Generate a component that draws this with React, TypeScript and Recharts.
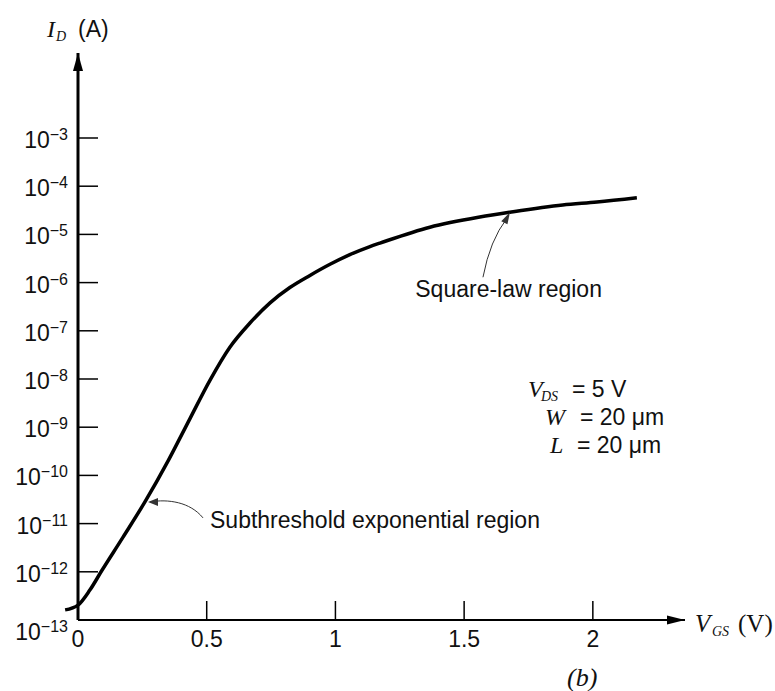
import React from 'react';
import { LineChart, Line, XAxis, YAxis, ReferenceDot } from 'recharts';

// ---- data (V_GS in volts, I_D in amperes) ----
const vgs = [-0.05, 0, 0.046, 0.092, 0.175, 0.26, 0.35, 0.435, 0.513, 0.59, 0.668, 0.746, 0.823, 0.901, 0.979, 1.056, 1.134, 1.173, 1.367, 1.561, 1.678, 1.883, 2.016, 2.171];
const idAmps = [1.62e-13, 2.04e-13, 4.17e-13, 1.05e-12, 5.25e-12, 2.82e-11, 2.0e-10, 1.51e-9, 9.5e-9, 4.57e-8, 1.45e-7, 3.8e-7, 7.9e-7, 1.41e-6, 2.4e-6, 3.8e-6, 5.6e-6, 6.6e-6, 1.41e-5, 2.29e-5, 2.88e-5, 4.07e-5, 4.68e-5, 5.75e-5];

const xTicks = [0, 0.5, 1, 1.5, 2];
const xTickLabels = ['0', '0.5', '1', '1.5', '2'];
const yExponents = [-3, -4, -5, -6, -7, -8, -9, -10, -11, -12, -13];
const yTicks = yExponents.map((e) => Math.pow(10, e));
const xDomain = [0, 2.358];
const yDomain = [1e-13, 0.058];

const annotations = [
  { key: 'sub', label: 'Subthreshold exponential region', v: 0.272, i: 2.82e-11 },
  { key: 'sq', label: 'Square-law region', v: 1.678, i: 2.88e-5 },
];

const params = [
  { sym: 'V', sub: 'DS', rest: '= 5 V' },
  { sym: 'W', sub: '', rest: '= 20 \u03bcm' },
  { sym: 'L', sub: '', rest: '= 20 \u03bcm' },
];

const data = vgs.map((v, k) => ({ vgs: v, id: idAmps[k] }));

const SANS = '"Liberation Sans", Arial, Helvetica, sans-serif';
const SERIF = '"Liberation Serif", "Times New Roman", serif';
const FS = 23;
const INK = '#111';

const Y_GAP = 10;
const X_GAP = 27;

const YTick = (props: any) => {
  const { x, y, payload } = props;
  const exp = Math.round(Math.log10(payload.value));
  const bottom = exp === -13;
  const ax = x + Y_GAP;
  return (
    <g>
      {!bottom && <line x1={ax} y1={y} x2={ax + 20} y2={y} stroke="#000" strokeWidth={1.5} />}
      <text x={x} y={y + (bottom ? 20 : 10)} textAnchor="end" fontFamily={SANS} fontSize={FS} fill={INK}>
        <tspan>10</tspan>
        <tspan dy={-8} fontSize={16}>{'\u2212' + String(-exp)}</tspan>
      </text>
    </g>
  );
};

const XTick = (props: any) => {
  const { x, y, payload } = props;
  const ay = y - X_GAP;
  return (
    <g>
      {payload.value !== 0 && <line x1={x} y1={ay} x2={x} y2={ay - 19} stroke="#000" strokeWidth={1.5} />}
      <text x={x} y={y} textAnchor="middle" fontFamily={SANS} fontSize={FS} fill={INK}>
        {xTickLabels[xTicks.indexOf(payload.value)] ?? String(payload.value)}
      </text>
    </g>
  );
};

const ArrowUp = (p: any) => (
  <path d={`M${p.cx},${p.cy} L${p.cx + 5},${p.cy + 18} L${p.cx - 5},${p.cy + 18} Z`} fill="#000" />
);
const ArrowRight = (p: any) => (
  <path d={`M${p.cx},${p.cy} L${p.cx - 18},${p.cy - 4.5} L${p.cx - 18},${p.cy + 4.5} Z`} fill="#000" />
);

const SubAnno = (p: any) => {
  const { cx, cy } = p;
  return (
    <g>
      <path d={`M${cx + 2},${cy} C${cx + 20},${cy - 3} ${cx + 42},${cy} ${cx + 55},${cy + 16}`} fill="none" stroke="#333" strokeWidth={1} />
      <path d={`M${cx},${cy} L${cx + 10},${cy - 4} L${cx + 10},${cy + 4} Z`} fill="#333" />
      <text x={cx + 62} y={cy + 26} fontFamily={SANS} fontSize={FS} fill={INK}>{annotations[0].label}</text>
    </g>
  );
};

const SqAnno = (p: any) => {
  const { cx, cy } = p;
  return (
    <g>
      <path d={`M${cx - 3},${cy + 6} Q${cx - 20},${cy + 28} ${cx - 27},${cy + 65}`} fill="none" stroke="#333" strokeWidth={1} />
      <path d={`M${cx},${cy} L${cx - 2.5},${cy + 12} L${cx - 8.7},${cy + 9} Z`} fill="#333" />
      <text x={cx + 92} y={cy + 85} textAnchor="end" fontFamily={SANS} fontSize={FS} fill={INK}>{annotations[1].label}</text>
    </g>
  );
};

export default function App() {
  return (
    <div style={{ position: 'absolute', left: 0, top: 0, width: 775, height: 691, background: '#fff' }}>
      <style>{'.recharts-line-curve{clip-path:none !important}'}</style>
      <LineChart width={775} height={691} data={data} margin={{ top: 53, right: 90, bottom: 70, left: 77 }}>
        <XAxis
          dataKey="vgs"
          type="number"
          domain={xDomain}
          allowDataOverflow
          ticks={xTicks}
          interval={0}
          height={1}
          tickSize={0}
          tickMargin={X_GAP}
          tickLine={false}
          axisLine={{ stroke: '#000', strokeWidth: 2.2 }}
          tick={<XTick />}
        />
        <YAxis
          type="number"
          scale="log"
          domain={yDomain}
          ticks={yTicks}
          interval={0}
          width={1}
          tickSize={0}
          tickMargin={Y_GAP}
          tickLine={false}
          axisLine={{ stroke: '#000', strokeWidth: 3 }}
          tick={<YTick />}
        />
        <Line
          type="monotone"
          dataKey="id"
          stroke="#000"
          strokeWidth={3.5}
          dot={false}
          isAnimationActive={false}
        />
        <ReferenceDot x={0} y={yDomain[1]} r={1} ifOverflow="visible" shape={ArrowUp} />
        <ReferenceDot x={xDomain[1]} y={yDomain[0]} r={1} ifOverflow="visible" shape={ArrowRight} />
        <ReferenceDot x={annotations[0].v} y={annotations[0].i} r={1} ifOverflow="visible" shape={SubAnno} />
        <ReferenceDot x={annotations[1].v} y={annotations[1].i} r={1} ifOverflow="visible" shape={SqAnno} />
      </LineChart>
      <svg width={775} height={691} style={{ position: 'absolute', left: 0, top: 0, pointerEvents: 'none' }}>
        <text x={47} y={37} fontFamily={SERIF} fontStyle="italic" fontSize={24} fill={INK}>I</text>
        <text x={56} y={41} fontFamily={SERIF} fontStyle="italic" fontSize={14} fill={INK}>D</text>
        <text x={78} y={37} fontFamily={SANS} fontSize={FS} fill={INK}>(A)</text>

        <text x={695} y={632} fontFamily={SERIF} fontStyle="italic" fontSize={25} fill={INK}>V</text>
        <text x={712} y={636} fontFamily={SERIF} fontStyle="italic" fontSize={14} fill={INK}>GS</text>
        <text x={738} y={632} fontFamily={SERIF} fontSize={25} fill={INK}>(V)</text>

        <text x={567} y={686} fontFamily={SERIF} fontStyle="italic" fontSize={26} fill={INK}>(b)</text>

        {params.map((pr, k) => {
          const base = 397 + k * 28;
          const symX = [528, 545, 550][k];
          const eqX = [572, 580, 577][k];
          return (
            <g key={pr.sym}>
              <text x={symX} y={base} fontFamily={SERIF} fontStyle="italic" fontSize={24} fill={INK}>{pr.sym}</text>
              {pr.sub && (
                <text x={symX + 13} y={base + 4} fontFamily={SERIF} fontStyle="italic" fontSize={14} fill={INK}>{pr.sub}</text>
              )}
              <text x={eqX} y={base} fontFamily={SANS} fontSize={FS} fill={INK}>{pr.rest}</text>
            </g>
          );
        })}
      </svg>
    </div>
  );
}
